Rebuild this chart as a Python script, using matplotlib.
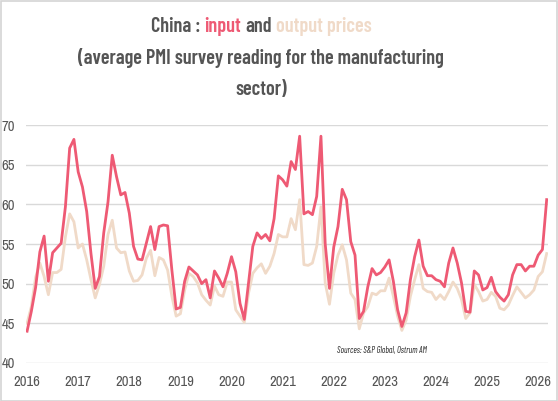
import matplotlib
matplotlib.use('Agg')
import matplotlib.pyplot as plt
from matplotlib.patches import Rectangle

# monthly readings, Jan 2016 -> Mar 2026
years = list(range(2016, 2027))

input_prices = [
    44.0, 46.5, 49.5, 54.0, 56.0, 50.3, 53.9, 54.5, 55.1, 59.7, 67.1, 68.2,  # 2016
    64.1, 62.2, 59.1, 53.8, 49.4, 50.9, 56.4, 60.3, 66.2, 63.5, 61.2, 61.5,  # 2017
    58.9, 54.7, 53.1, 53.0, 55.1, 57.2, 54.3, 57.2, 57.4, 57.3, 51.7, 46.8,  # 2018
    47.0, 50.3, 52.1, 51.6, 51.1, 50.0, 50.5, 48.2, 51.6, 50.7, 49.6, 51.3,  # 2019
    53.4, 51.5, 47.5, 45.5, 50.1, 54.7, 56.4, 55.7, 56.2, 55.4, 58.2, 63.6,  # 2020
    63.1, 62.3, 65.4, 64.4, 68.6, 58.8, 59.1, 58.7, 61.0, 68.6, 55.0, 49.4,  # 2021
    54.6, 57.2, 61.9, 60.6, 55.3, 53.6, 45.6, 46.5, 49.6, 51.9, 51.1, 51.4,  # 2022
    52.1, 53.0, 50.3, 46.7, 44.6, 46.3, 50.5, 53.4, 55.5, 52.2, 51.0, 51.0,  # 2023
    50.5, 50.3, 49.6, 52.6, 54.5, 52.6, 50.1, 46.5, 46.4, 51.6, 51.1, 49.2,  # 2024
    49.5, 50.8, 49.0, 48.3, 47.8, 48.6, 51.1, 52.4, 52.4, 51.6, 52.2, 52.2,  # 2025
    53.6, 54.3, 60.6,                                                        # 2026
]

output_prices = [
    45.0, 47.1, 50.8, 52.6, 50.9, 48.6, 51.4, 51.4, 51.8, 55.9, 58.8, 57.8,
    54.5, 55.0, 53.0, 50.5, 48.2, 49.9, 52.2, 56.2, 58.0, 54.5, 53.9, 54.0,
    51.6, 50.3, 50.4, 51.1, 53.2, 54.2, 51.0, 53.3, 53.0, 51.7, 48.4, 45.9,
    46.2, 49.2, 51.3, 50.9, 50.1, 48.6, 47.9, 47.3, 49.7, 48.6, 48.4, 50.2,
    50.2, 46.7, 45.9, 45.1, 48.8, 51.3, 52.0, 52.5, 51.3, 52.2, 53.8, 56.2,
    55.9, 55.9, 58.2, 56.8, 60.6, 52.4, 52.3, 52.6, 54.7, 59.7, 50.1, 47.4,
    51.3, 53.6, 54.9, 53.0, 48.8, 48.0, 44.3, 46.3, 47.1, 48.8, 48.6, 49.1,
    49.1, 50.7, 48.4, 45.9, 44.1, 45.4, 48.4, 50.5, 52.4, 49.4, 49.0, 48.9,
    48.0, 48.6, 48.0, 49.0, 50.2, 49.4, 48.0, 45.6, 46.3, 49.9, 49.0, 47.8,
    48.0, 48.9, 48.4, 46.9, 46.7, 47.3, 48.5, 49.6, 48.9, 48.2, 48.6, 49.2,
    50.9, 51.5, 53.8,
]

RED = '#ee5a74'
BEIGE = '#f0dac8'
TXT = '#555555'
TICK_FONT = ['Archivo Narrow', 'Roboto Condensed', 'DejaVu Sans']
TITLE_FONT = ['Barlow Condensed', 'Roboto Condensed', 'DejaVu Sans']
NOTE_FONT = ['Barlow Condensed', 'Roboto Condensed', 'DejaVu Sans']

plt.rcParams['font.family'] = TICK_FONT

fig = plt.figure(figsize=(5.58, 4.01), dpi=100)
fig.patches.append(Rectangle((0.001, 0.001), 0.997, 0.997, transform=fig.transFigure,
                             fill=False, edgecolor='#d4d4d4', lw=1.2))

ax = fig.add_axes([0.047, 0.095, 0.935, 0.593])
months = list(range(len(input_prices)))
ax.plot(months, output_prices, color=BEIGE, lw=2)
ax.plot(months, input_prices, color=RED, lw=2)

ax.set_ylim(40, 70)
ax.set_yticks([40, 45, 50, 55, 60, 65, 70])
ax.set_xlim(-0.2, 122.3)
ax.set_xticks([12 * i for i in range(len(years))])
ax.set_xticklabels([str(y) for y in years])
ax.grid(axis='y', color='#d9d9d9', lw=1)
ax.set_axisbelow(True)
for s in ax.spines.values():
    s.set_visible(False)
ax.tick_params(axis='both', length=0, labelsize=10.5, labelcolor=TXT)
ax.tick_params(axis='y', pad=8)
ax.tick_params(axis='x', pad=9)

# title, first line in three colours
cx = 0.468
tsize = 14.6
tw = 'semibold'
fig.text(cx, 0.855, '(average PMI survey reading for the manufacturing',
         ha='center', va='center', fontsize=tsize, color=TXT, fontweight=tw,
         family=TITLE_FONT)
fig.text(cx, 0.776, 'sector)', ha='center', va='center', fontsize=tsize,
         color=TXT, fontweight=tw, family=TITLE_FONT)

pieces = [('China : ', TXT), ('input', RED), (' and ', TXT), ('output prices', BEIGE)]
fig.canvas.draw()
r = fig.canvas.get_renderer()


def width_of(s):
    t = fig.text(0, 0, s, fontsize=tsize, fontweight=tw, family=TITLE_FONT)
    w = t.get_window_extent(r).width
    t.remove()
    return w


sp = width_of('a a') - width_of('aa')
ws = []
for s, c in pieces:
    ws.append(width_of(s.strip()) + sp * (len(s) - len(s.strip())))
total = sum(ws)
x = cx * fig.bbox.width - total / 2
for (s, c), w in zip(pieces, ws):
    lead = sp if s.startswith(' ') else 0
    fig.text((x + lead) / fig.bbox.width, 0.933, s.strip(), ha='left', va='center',
             fontsize=tsize, color=c, fontweight=tw, family=TITLE_FONT)
    x += w

fig.text(0.604, 0.125, 'Sources: S&P Global, Ostrum AM', fontsize=6.2, style='italic',
         color='#222222', ha='left', va='center', family=NOTE_FONT)

fig.savefig('out.png', dpi=100)
